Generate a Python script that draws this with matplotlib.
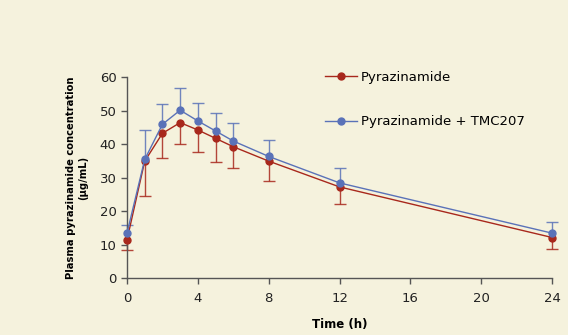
import matplotlib.pyplot as plt

# time points (h)
time = [0, 1, 2, 3, 4, 5, 6, 8, 12, 24]

# Pyrazinamide alone: mean and lower error bar end
pza_mean = [11.5, 35.0, 43.3, 46.5, 44.3, 41.8, 39.3, 35.0, 27.3, 12.2]
pza_low = [8.6, 24.6, 35.8, 40.0, 37.8, 34.8, 33.0, 29.0, 22.1, 8.7]

# Pyrazinamide + TMC207: mean and upper error bar end
tmc_mean = [13.5, 35.5, 46.0, 50.2, 47.0, 44.0, 41.0, 36.4, 28.5, 13.5]
tmc_high = [16.0, 44.2, 52.0, 56.8, 52.5, 49.3, 46.3, 41.3, 33.1, 16.7]

bg = '#F5F2DD'
red = '#A8281C'
blue = '#5A72B8'

fig = plt.figure(figsize=(5.68, 3.35), dpi=100, facecolor=bg)
ax = fig.add_axes([0.2236, 0.169, 0.7485, 0.600], facecolor=bg)

# one-sided error bars: down for pyrazinamide, up for the combination
ax.vlines(time, pza_low, pza_mean, color=red, lw=1.0, alpha=0.85, clip_on=False, zorder=2)
ax.plot(time, pza_low, ls='none', marker='_', markersize=8, mew=1.0, color=red,
        alpha=0.85, clip_on=False, zorder=2)
ax.vlines(time, tmc_mean, tmc_high, color=blue, lw=1.0, alpha=0.85, clip_on=False, zorder=2)
ax.plot(time, tmc_high, ls='none', marker='_', markersize=8, mew=1.0, color=blue,
        alpha=0.85, clip_on=False, zorder=2)

ax.plot(time, pza_mean, color=red, marker='o', markersize=5, lw=1.0,
        label='Pyrazinamide', clip_on=False, zorder=3)
ax.plot(time, tmc_mean, color=blue, marker='o', markersize=5, lw=1.0,
        label='Pyrazinamide + TMC207', clip_on=False, zorder=3)

ax.set_xlim(0, 24)
ax.set_ylim(0, 60)
ax.set_xticks(range(0, 25, 4))
ax.set_yticks(range(0, 61, 10))

for side in ['top', 'right']:
    ax.spines[side].set_visible(False)
for side in ['left', 'bottom']:
    ax.spines[side].set_color('#555555')
    ax.spines[side].set_linewidth(1.0)
ax.tick_params(direction='out', length=4, width=1.0, color='#555555',
               labelsize=9.5, labelcolor='#222222')
ax.tick_params(axis='x', pad=6)

ax.set_xlabel('Time (h)', fontsize=8.5, fontweight='bold', labelpad=9)
ax.set_ylabel('Plasma pyrazinamide concentration\n(µg/mL)', fontsize=7.2,
              fontweight='bold', labelpad=8, linespacing=1.3)

ax.legend(loc='upper left', bbox_to_anchor=(0.438, 1.093),
          frameon=False, fontsize=9.5, labelspacing=2.42, handlelength=2.4,
          handletextpad=0.3)

fig.savefig('out.png', dpi=100, facecolor=bg)
